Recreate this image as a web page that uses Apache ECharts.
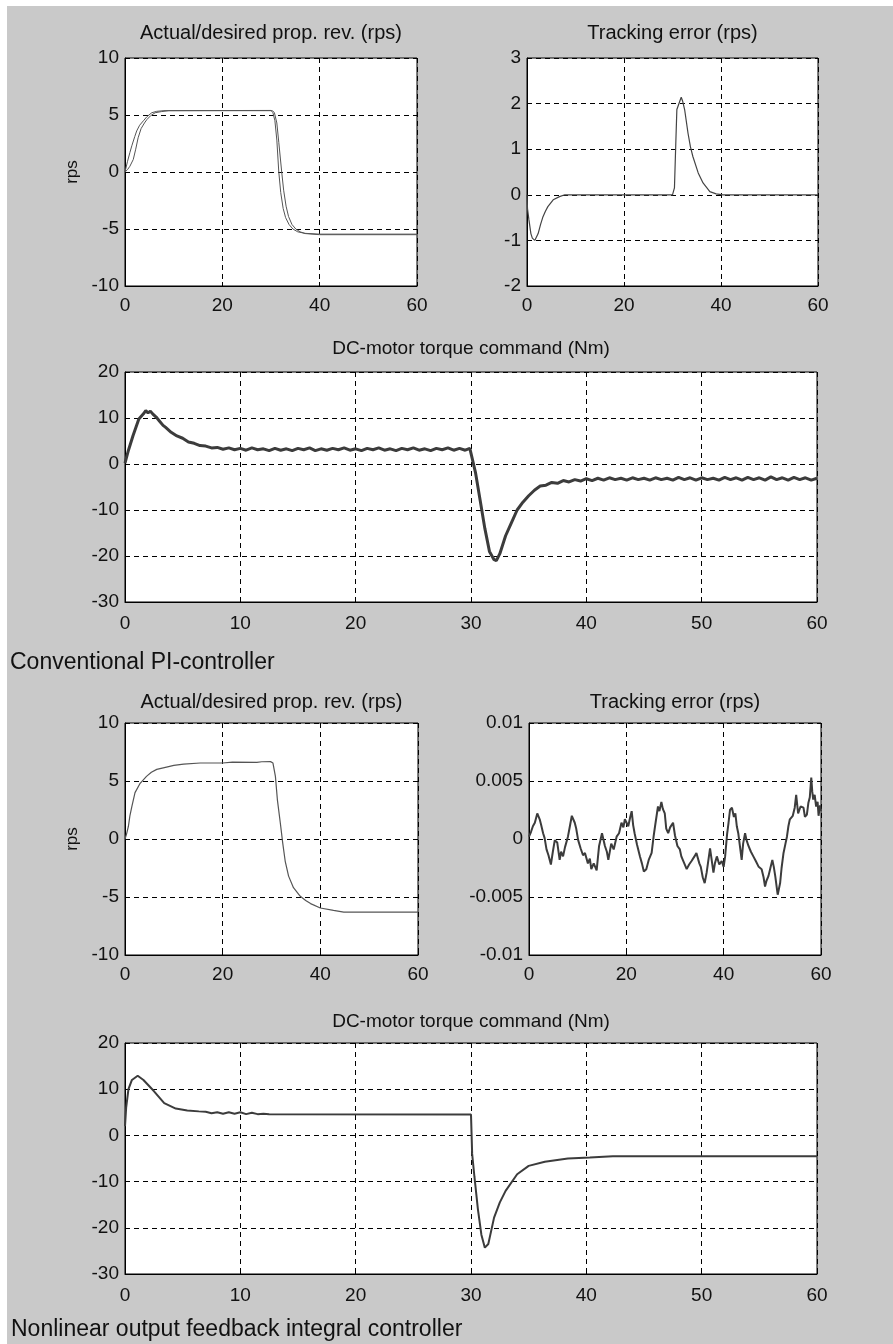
<!DOCTYPE html>
<html>
<head>
<meta charset="utf-8">
<script src="https://cdn.jsdelivr.net/npm/echarts@6/dist/echarts.min.js"></script>
<style>
  html, body { margin: 0; padding: 0; background: #fff; }
  #chart { width: 893px; height: 1344px; }
</style>
</head>
<body>
<div id="chart"></div>
<script>
// ---- data: [time (s), value] ----
// Conventional PI-controller
const revDesiredPI = [[0,0],[0.5,0.9],[1,1.7],[1.4,2.3],[2,3.1],[2.4,3.6],[3,4.1],[3.8,4.5],[4.5,4.85],[5.5,5.2],[6.5,5.32],[8,5.38],[30,5.4],[30.4,5.2],[30.8,4.5],[31.2,2.8],[31.6,0],[32,-1.8],[32.5,-3.2],[33,-4.0],[33.7,-4.6],[34.5,-5.0],[35.5,-5.25],[37,-5.38],[40,-5.45],[60,-5.45]]
const revActualPI = [[0,0],[0.5,0.2],[1,0.5],[1.7,1.1],[2.2,2.0],[2.7,3.0],[3.3,3.8],[4,4.3],[4.5,4.6],[5.3,4.95],[6.2,5.2],[7.5,5.3],[9,5.38],[30.3,5.38],[30.7,5.2],[31.2,4.3],[31.6,2.6],[32.2,0],[32.6,-1.6],[33.1,-3.0],[33.6,-3.9],[34.3,-4.6],[35.1,-5.0],[36,-5.25],[37,-5.4],[40,-5.5],[60,-5.5]]
const errPI = [[0,0],[0.1,-0.3],[0.4,-0.55],[0.8,-0.85],[1.1,-0.95],[1.6,-1.0],[2.3,-0.85],[2.8,-0.65],[3.3,-0.48],[3.8,-0.36],[4.3,-0.26],[5.4,-0.11],[6.7,-0.04],[7.8,0],[17.8,0],[18,0.03],[18.2,0],[23.4,0],[23.6,0.03],[23.8,0],[30,0],[30.4,0.15],[30.7,1.2],[30.9,1.87],[31.5,2.05],[31.8,2.14],[32.1,2.05],[32.5,1.87],[33.2,1.35],[33.7,1.05],[34.2,0.84],[35.3,0.48],[36.3,0.26],[37.7,0.07],[39,0.02],[40.4,0],[45,0],[45.1,-0.03],[45.2,0],[60,0]]
const torquePI = [[0,0.2],[0.3,3],[0.7,6.2],[1.2,9.8],[1.6,10.9],[1.8,11.6],[2,11.1],[2.2,11.5],[2.4,10.9],[2.7,10.2],[3,9.3],[3.3,8.4],[3.5,8.0],[4,6.9],[4.5,6.1],[5,5.6],[5.5,4.8],[6,4.5],[6.5,4.0],[7,3.9],[7.5,3.5],[8,3.6],[8.5,3.2],[9,3.5],[9.5,3.1],[10,3.4],[10.5,3.0],[11,3.5],[11.5,3.1],[12,3.3],[12.5,2.9],[13,3.4],[13.5,3.0],[14,3.3],[14.5,2.9],[15,3.4],[15.5,3.1],[16,3.5],[16.5,2.9],[17,3.3],[17.5,3.0],[18,3.4],[18.5,3.1],[19,3.5],[19.5,3.0],[20,3.3],[20.5,2.9],[21,3.4],[21.5,3.1],[22,3.5],[22.5,3.0],[23,3.3],[23.5,2.9],[24,3.4],[24.5,3.1],[25,3.5],[25.5,3.0],[26,3.3],[26.5,2.9],[27,3.4],[27.5,3.1],[28,3.5],[28.5,3.0],[29,3.4],[29.5,3.0],[29.9,3.4],[30,3.0],[30.4,-2],[30.8,-8],[31.2,-14],[31.6,-19],[32,-20.8],[32.2,-21.0],[32.5,-19.5],[33,-15.6],[33.5,-12.8],[34,-10],[34.5,-8.3],[35,-6.9],[35.5,-5.7],[36,-4.8],[36.5,-4.6],[37,-4.0],[37.5,-4.2],[38,-3.6],[38.5,-3.9],[39,-3.4],[39.5,-3.7],[40,-3.2],[40.5,-3.6],[41,-3.1],[41.5,-3.5],[42,-3.0],[42.5,-3.4],[43,-3.1],[43.5,-3.5],[44,-3.0],[44.5,-3.4],[45,-3.1],[45.5,-3.5],[46,-3.0],[46.5,-3.4],[47,-3.1],[47.5,-3.5],[48,-2.9],[48.5,-3.4],[49,-3.0],[49.5,-3.5],[50,-3.0],[50.5,-3.4],[51,-3.1],[51.5,-3.5],[52,-2.9],[52.5,-3.4],[53,-3.0],[53.5,-3.5],[54,-2.9],[54.5,-3.4],[55,-3.0],[55.5,-3.5],[56,-2.8],[56.5,-3.4],[57,-3.0],[57.5,-3.5],[58,-2.9],[58.5,-3.4],[59,-3.0],[59.5,-3.5],[60,-3.1]]

// Nonlinear output feedback integral controller
const revNL = [[0,0],[0.3,0.4],[0.7,1.1],[1.0,2.0],[1.4,2.8],[2.05,4.0],[3.1,4.8],[4.4,5.4],[5.4,5.75],[6.5,6.0],[8.5,6.2],[10,6.35],[12,6.45],[15.4,6.55],[20,6.55],[22,6.63],[27,6.6],[28,6.66],[29.8,6.67],[30.3,6.55],[30.8,5.4],[31.2,3.4],[31.8,1.4],[32.3,-0.35],[32.8,-1.9],[33.5,-3.2],[34.5,-4.2],[35.9,-4.94],[37,-5.3],[38,-5.57],[40,-5.95],[42.7,-6.15],[44.8,-6.3],[60,-6.3]]
const errNL = [[0,0.0002],[0.4,0.0006],[0.8,0.0011],[1.2,0.0014],[1.7,0.0022],[2.2,0.0017],[2.5,0.0012],[2.9,0.0005],[3.2,0.0001],[3.6,-0.0009],[4,-0.0014],[4.5,-0.0022],[4.9,-0.0011],[5.3,-0.0001],[5.8,-0.0003],[6.3,-0.0018],[6.6,-0.0011],[7,-0.0015],[7.4,-0.0007],[8,0.0002],[8.4,0.0011],[8.8,0.002],[9.4,0.0014],[9.7,0.0009],[10.1,-0.0001],[10.6,-0.0008],[11.1,-0.0014],[11.5,-0.0012],[12.1,-0.0021],[12.5,-0.0017],[12.8,-0.0026],[13.3,-0.0021],[13.9,-0.0027],[14.4,-0.0006],[15,0.0005],[15.6,-0.0006],[16,-0.0011],[16.3,-0.0018],[16.9,-0.0004],[17.4,-0.0009],[18,0.0002],[18.5,0.0005],[19,0.0014],[19.4,0.0010],[19.7,0.0017],[20.4,0.0011],[20.8,0.0019],[21.1,0.0024],[21.4,0.0012],[21.7,0.0005],[22.2,-0.0005],[22.8,-0.0015],[23.2,-0.0021],[23.6,-0.0028],[24.1,-0.0026],[24.6,-0.0018],[25.2,-0.0012],[25.6,0.0002],[25.9,0.0011],[26.5,0.0028],[26.8,0.0024],[27.2,0.0032],[27.5,0.0026],[27.9,0.0022],[28.2,0.0009],[28.6,0.0005],[29,0.0010],[29.6,0.0014],[30,0.0003],[30.5,-0.0006],[31,-0.0009],[31.3,-0.0015],[31.8,-0.0020],[32.4,-0.0026],[32.9,-0.0022],[33.4,-0.0019],[34,-0.0015],[34.4,-0.0012],[35,-0.0021],[35.3,-0.0024],[35.7,-0.0033],[36.1,-0.0038],[36.5,-0.0029],[37.2,-0.0008],[37.5,-0.0017],[37.9,-0.0029],[38.2,-0.0021],[38.6,-0.0015],[39.1,-0.0022],[39.6,-0.0019],[40,-0.0024],[40.3,-0.0015],[40.7,0.0004],[41,0.0014],[41.3,0.0025],[41.7,0.0027],[42.1,0.0019],[42.4,0.0022],[42.7,0.0011],[43,0.0005],[43.4,-0.0008],[43.7,-0.0018],[44,-0.0004],[44.4,0.0005],[44.7,-0.0001],[45.1,-0.0006],[45.6,-0.0011],[46.1,-0.0015],[46.6,-0.0019],[47.2,-0.0024],[47.8,-0.0026],[48.2,-0.0033],[48.5,-0.0041],[48.8,-0.0036],[49.2,-0.0032],[49.6,-0.0025],[50,-0.0018],[50.3,-0.0024],[50.6,-0.0032],[51.1,-0.0048],[51.6,-0.0038],[51.9,-0.0025],[52.3,-0.0012],[52.7,-0.0004],[53,0.0002],[53.3,0.0011],[53.6,0.0017],[54.2,0.002],[54.6,0.0027],[54.9,0.0038],[55.3,0.0022],[55.8,0.0028],[56.4,0.0027],[56.7,0.0019],[57.1,0.0021],[57.4,0.0031],[57.7,0.0036],[58,0.0053],[58.2,0.0041],[58.4,0.0034],[58.7,0.0038],[59,0.0028],[59.3,0.0032],[59.5,0.002],[59.8,0.0029],[60,0.0024]]
const torqueNL = [[0,2],[0.1,6],[0.3,10],[0.6,12],[1.1,12.9],[1.6,12.0],[2.5,9.6],[3.4,7.0],[4.4,5.8],[5.4,5.4],[6.4,5.2],[7,5.1],[7.5,4.8],[8,5.0],[8.5,4.7],[9,5.0],[9.5,4.7],[10,5.0],[10.5,4.6],[11,4.9],[11.5,4.6],[12,4.7],[12.5,4.6],[30,4.5],[30.1,-4],[30.3,-9],[30.6,-16],[30.9,-21.5],[31.2,-24.3],[31.5,-23.5],[32,-17.8],[32.5,-14.5],[33,-12],[34,-8.4],[35,-6.6],[36.4,-5.7],[38.4,-5.0],[40.3,-4.8],[42.3,-4.5],[60,-4.5]]

const xTicksSmall = 20
const xTicksWide = 10

const chart = echarts.init(document.getElementById('chart'))

const FONT = "'Liberation Sans', Arial, sans-serif"
const INK = '#111'
const TRACE = '#3c3c3c'

const grids = [
  { left: 125, top: 58, width: 292, height: 228 },
  { left: 527, top: 58, width: 291, height: 228 },
  { left: 125, top: 372, width: 692, height: 230 },
  { left: 125, top: 723, width: 293, height: 232 },
  { left: 529, top: 723, width: 292, height: 232 },
  { left: 125, top: 1043, width: 692, height: 231 }
]
const wide = [false, false, true, false, false, true]
const yRanges = [
  [-10, 10, 5], [-2, 3, 1], [-30, 20, 10],
  [-10, 10, 5], [-0.01, 0.01, 0.005], [-30, 20, 10]
]
const titles = [
  'Actual/desired prop. rev. (rps)', 'Tracking error (rps)', 'DC-motor torque command (Nm)',
  'Actual/desired prop. rev. (rps)', 'Tracking error (rps)', 'DC-motor torque command (Nm)'
]
const titleY = [33, 33, 349, 702, 702, 1022]

function dashed() {
  return { show: true, lineStyle: { color: '#000', type: [5, 4], width: 1 } }
}

const xAxes = grids.map((g, i) => ({
  gridIndex: i, type: 'value', min: 0, max: 60,
  interval: wide[i] ? xTicksWide : xTicksSmall,
  axisLine: { show: true, onZero: false, lineStyle: { color: '#000' } },
  axisTick: { show: true, inside: true, length: 4, lineStyle: { color: '#000' } },
  axisLabel: { color: INK, fontSize: 19, fontFamily: FONT, margin: wide[i] ? 12 : 10 },
  splitLine: dashed()
}))

const yAxes = grids.map((g, i) => ({
  gridIndex: i, type: 'value',
  min: yRanges[i][0], max: yRanges[i][1], interval: yRanges[i][2],
  name: (i === 0 || i === 3) ? 'rps' : '',
  nameLocation: 'middle', nameGap: 44,
  nameTextStyle: { color: INK, fontSize: 17, fontFamily: FONT },
  axisLine: { show: true, onZero: false, lineStyle: { color: '#000' } },
  axisTick: { show: true, inside: true, length: 4, lineStyle: { color: '#000' } },
  axisLabel: { color: INK, fontSize: 19, fontFamily: FONT, margin: 6 },
  splitLine: dashed()
}))

function line(data, idx, width, color) {
  return {
    type: 'line', data: data, xAxisIndex: idx, yAxisIndex: idx,
    showSymbol: false, symbol: 'none', silent: true,
    lineStyle: { color: color || TRACE, width: width }
  }
}

const titleTexts = grids.map((g, i) => ({
  type: 'text', z: 10,
  style: {
    text: titles[i], x: g.left + g.width / 2, y: titleY[i],
    textAlign: 'center', textVerticalAlign: 'middle',
    font: (wide[i] ? '19px ' : '20px ') + FONT, fill: INK
  }
}))

const option = {
  backgroundColor: '#c9c9c9',
  animation: false,
  grid: grids.map(g => Object.assign({
    show: true, backgroundColor: '#fff', borderColor: '#000', borderWidth: 1
  }, g)),
  xAxis: xAxes,
  yAxis: yAxes,
  series: [
    line(revDesiredPI, 0, 1, '#555'),
    line(revActualPI, 0, 1, '#555'),
    line(errPI, 1, 1.2, '#444'),
    line(torquePI, 2, 3, TRACE),
    line(revNL, 3, 1.2, '#555'),
    line(errNL, 4, 2, TRACE),
    line(torqueNL, 5, 2, TRACE)
  ],
  graphic: [
    { type: 'rect', shape: { x: 0, y: 0, width: 893, height: 6 }, style: { fill: '#fff' } },
    { type: 'rect', shape: { x: 0, y: 0, width: 7, height: 1344 }, style: { fill: '#fff' } },
    {
      type: 'text',
      style: { text: 'Conventional PI-controller', x: 10, y: 663, textVerticalAlign: 'middle', font: '23px ' + FONT, fill: INK }
    },
    {
      type: 'text',
      style: { text: 'Nonlinear output feedback integral controller', x: 11, y: 1330, textVerticalAlign: 'middle', font: '23px ' + FONT, fill: INK }
    }
  ].concat(titleTexts)
}

chart.setOption(option)
</script>
</body>
</html>
